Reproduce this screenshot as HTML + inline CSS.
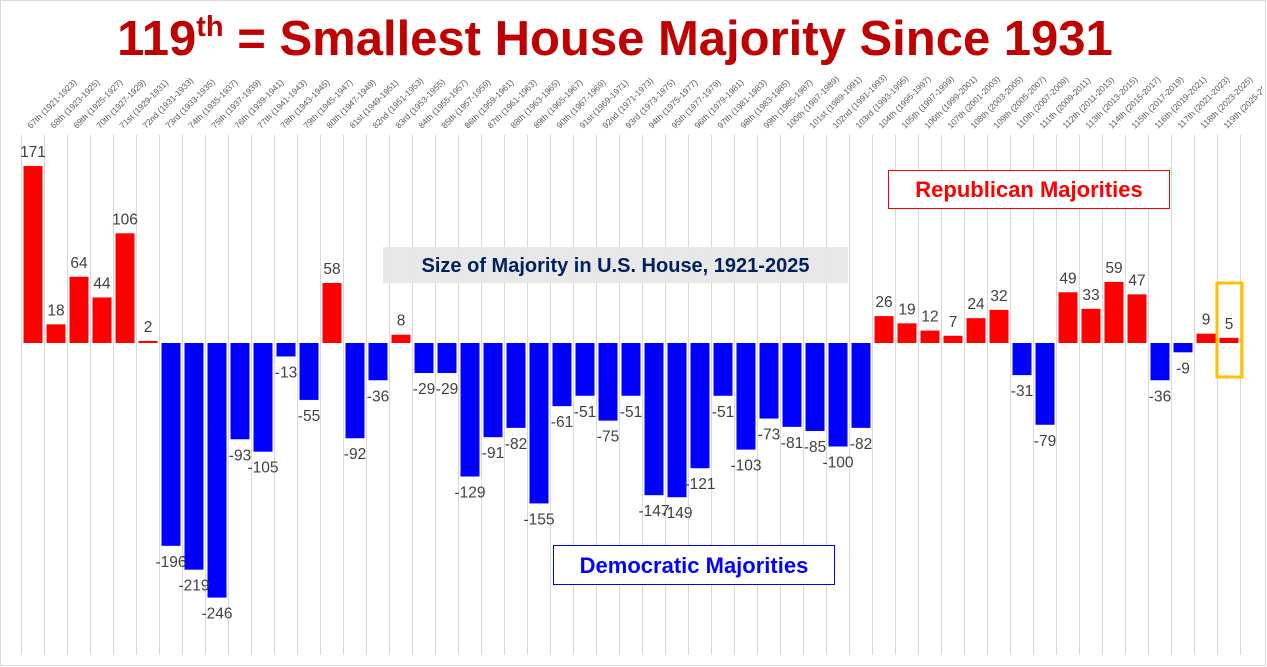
<!DOCTYPE html>
<html><head><meta charset="utf-8"><style>
body{margin:0;background:#fff;}
svg{display:block;font-family:"Liberation Sans",Arial,sans-serif;}
</style></head><body>
<svg id="chart" width="1267" height="667">
<defs><clipPath id="clip"><rect x="0" y="0" width="1262" height="667"/></clipPath></defs>
<rect x="0.5" y="0.5" width="1265" height="665" fill="#fff" stroke="#d9d9d9"/>
<text x="615" y="55" text-anchor="middle" font-size="49" font-weight="bold" fill="#c00000">119<tspan font-size="29" dy="-19">th</tspan><tspan dy="19"> = Smallest House Majority Since 1931</tspan></text>
<g id="grid"></g>
<g id="labels" clip-path="url(#clip)"></g>
<g id="bars"></g>
<g id="values"></g>
<rect x="383" y="247" width="465" height="36" fill="#e7e7e7" opacity="0.95"/>
<text x="615.5" y="272" text-anchor="middle" font-size="20" font-weight="bold" fill="#002060">Size of Majority in U.S. House, 1921-2025</text>
<rect x="888.5" y="170.5" width="281" height="38" fill="#fff" stroke="#ff0000"/>
<text x="1029" y="197" text-anchor="middle" font-size="22" font-weight="bold" fill="#ff0000">Republican Majorities</text>
<rect x="553.5" y="545.5" width="281" height="39" fill="#fff" stroke="#0000ff"/>
<text x="694" y="573" text-anchor="middle" font-size="22" font-weight="bold" fill="#0000ff">Democratic Majorities</text>
<rect x="1217" y="283" width="25" height="94" fill="none" stroke="#ffc000" stroke-width="3"/>
</svg>
<script>
const congresses=["67th (1921-1923)","68th (1923-1925)","69th (1925-1927)","70th (1927-1929)","71st (1929-1931)","72nd (1931-1933)","73rd (1933-1935)","74th (1935-1937)","75th (1937-1939)","76th (1939-1941)","77th (1941-1943)","78th (1943-1945)","79th (1945-1947)","80th (1947-1949)","81st (1949-1951)","82nd (1951-1953)","83rd (1953-1955)","84th (1955-1957)","85th (1957-1959)","86th (1959-1961)","87th (1961-1963)","88th (1963-1965)","89th (1965-1967)","90th (1967-1969)","91st (1969-1971)","92nd (1971-1973)","93rd (1973-1975)","94th (1975-1977)","95th (1977-1979)","96th (1979-1981)","97th (1981-1983)","98th (1983-1985)","99th (1985-1987)","100th (1987-1989)","101st (1989-1991)","102nd (1991-1993)","103rd (1993-1995)","104th (1995-1997)","105th (1997-1999)","106th (1999-2001)","107th (2001-2003)","108th (2003-2005)","109th (2005-2007)","110th (2007-2009)","111th (2009-2011)","112th (2011-2013)","113th (2013-2015)","114th (2015-2017)","115th (2017-2019)","116th (2019-2021)","117th (2021-2023)","118th (2023-2025)","119th (2025-2027)"];
const majorities=[171,18,64,44,106,2,-196,-219,-246,-93,-105,-13,-55,58,-92,-36,8,-29,-29,-129,-91,-82,-155,-61,-51,-75,-51,-147,-149,-121,-51,-103,-73,-81,-85,-100,-82,26,19,12,7,24,32,-31,-79,49,33,59,47,-36,-9,9,5];
const NS="http://www.w3.org/2000/svg";
const x0=21.5,step=23,zeroY=343,k=1.035;
const xc=i=>x0+step*(i+0.5);
const yv=v=>zeroY-v*k;
function mk(tag,attrs,parent){const e=document.createElementNS(NS,tag);for(const a in attrs)e.setAttribute(a,attrs[a]);document.getElementById(parent).appendChild(e);return e;}
for(let i=0;i<=congresses.length;i++){
  const g=mk('line',{x1:x0+step*i,x2:x0+step*i,y1:135,y2:655,stroke:'#d9d9d9','stroke-width':1},'grid');
  
  
}
congresses.forEach((c,i)=>{
  const t=mk('text',{x:xc(i)-2,y:129,'font-size':8.5,fill:'#595959',transform:`rotate(-45 ${xc(i)-2} 129)`},'labels');
  t.textContent=c;
  
  
});
majorities.forEach((v,i)=>{
  const y=Math.min(yv(v),zeroY),h=Math.abs(v*k);
  const b=mk('rect',{x:xc(i)-9.5,y:y,width:19,height:Math.max(h,1),fill:v>=0?'#ff0000':'#0000ff'},'bars');
  
  
  const ty=v>=0?yv(v)-9:yv(v)+21;
  const t=mk('text',{x:xc(i),y:ty,'text-anchor':'middle','font-size':15.5,fill:'#404040'},'values');
  t.textContent=v;
  
  
});
</script>
</body></html>
